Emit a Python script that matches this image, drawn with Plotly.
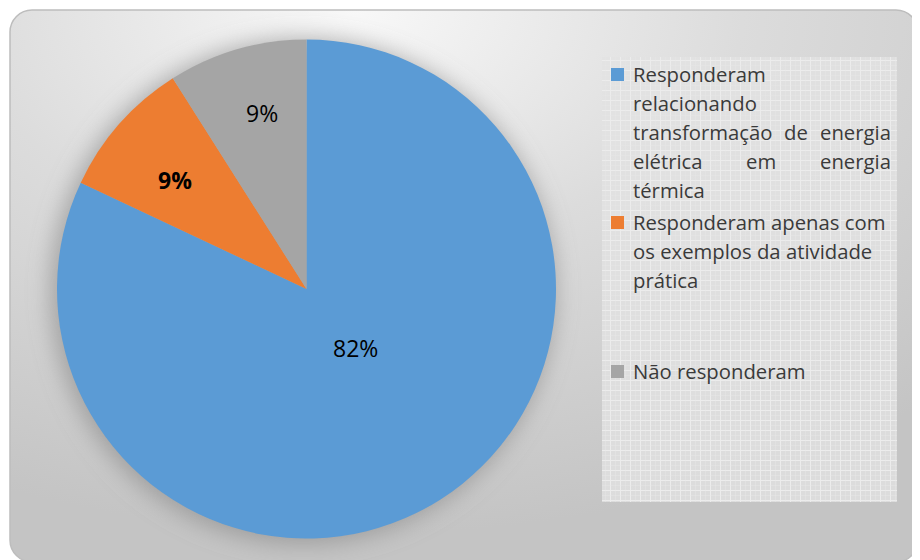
import base64
import math
import plotly.graph_objects as go

# ---------------- data ----------------
categories = [
    "Responderam relacionando transformação de energia elétrica em energia térmica",
    "Responderam apenas com os exemplos da atividade prática",
    "Não responderam",
]
percent_values = [82, 9, 9]
slice_colors = ["#5B9BD5", "#ED7D31", "#A5A5A5"]
label_bold = [False, True, False]

# wrapped legend lines (text layout of the legend entries)
legend_lines = [
    ["Responderam", "relacionando", "transformação de energia", "elétrica em energia", "térmica"],
    ["Responderam apenas com", "os exemplos da atividade", "prática"],
    ["Não responderam"],
]
justified = [[False, False, True, True, False], [False, False, False], [False]]

W, H = 920, 560
OFF = 8  # page body margin in the screenshot


def px(x):
    return (x - OFF) / W


def py(y):
    return 1 - (y - OFF) / H


# ---------------- background (decoration only) ----------------
svg = f"""<svg xmlns='http://www.w3.org/2000/svg' width='{W}' height='{H}' viewBox='{OFF} {OFF} {W} {H}'>
<defs>
<radialGradient id='bg' cx='0.38' cy='0.0' r='0.95' gradientUnits='objectBoundingBox'>
<stop offset='0' stop-color='#F8F8F8'/>
<stop offset='0.45' stop-color='#DCDCDC'/>
<stop offset='1' stop-color='#C4C4C4'/>
</radialGradient>
<filter id='blur' x='-30%' y='-30%' width='160%' height='160%'><feGaussianBlur stdDeviation='11'/></filter>
<pattern id='grid' width='10' height='10' patternUnits='userSpaceOnUse'>
<rect width='10' height='10' fill='#E2E2E2' fill-opacity='0.8'/>
<rect x='0' y='0' width='1' height='10' fill='#ECECEC'/>
<rect x='0' y='0' width='10' height='1' fill='#ECECEC'/>
<rect x='5' y='0' width='1' height='10' fill='#E8E8E8' fill-opacity='0.5'/>
<rect x='0' y='5' width='10' height='1' fill='#E8E8E8' fill-opacity='0.5'/>
</pattern>
</defs>
<rect x='10' y='10' width='908' height='552' rx='22' ry='22' fill='url(#bg)' stroke='#BDBDBD' stroke-width='1.5'/>
<circle cx='303' cy='291' r='253' fill='#858585' fill-opacity='0.6' filter='url(#blur)'/>
<rect x='602' y='57' width='295' height='445' fill='url(#grid)'/>
</svg>"""
src = "data:image/svg+xml;base64," + base64.b64encode(svg.encode("utf-8")).decode("ascii")

# ---------------- pie ----------------
cx, cy, R = 306.5, 289, 249.5
fig = go.Figure(
    go.Pie(
        labels=categories,
        values=percent_values,
        sort=False,
        direction="clockwise",
        rotation=0,
        marker=dict(colors=slice_colors, line=dict(width=0)),
        textinfo="none",
        hoverinfo="label+percent",
        showlegend=False,
        domain=dict(x=[px(cx - R), px(cx + R)], y=[py(cy + R), py(cy - R)]),
    )
)

# data labels placed at each slice's mid-angle (plus small nudges, in px)
label_radius_frac = [0.31, 0.68, 0.72]
label_nudge = [(8, -6), (-4, 3), (6, -3)]
total = sum(percent_values)
cum = 0
annotations = []
for v, bold, f, (nx, ny) in zip(percent_values, label_bold, label_radius_frac, label_nudge):
    mid = (cum + v / 2) / total * 2 * math.pi
    cum += v
    lx = cx + f * R * math.sin(mid) + nx
    ly = cy - f * R * math.cos(mid) + ny
    txt = f"{round(v / total * 100)}%"
    if bold:
        txt = f"<b>{txt}</b>"
    annotations.append(
        dict(x=px(lx), y=py(ly), xref="paper", yref="paper", text=txt, showarrow=False,
             xanchor="center", yanchor="middle",
             font=dict(family="Open Sans, DejaVu Sans, sans-serif", size=23, color="#000000"))
    )

# ---------------- custom legend ----------------
shapes = []
LX_MARK, LX_TEXT, LX_RIGHT = 611, 631, 893
line_centers = [[74, 103, 132, 161, 190], [222, 251, 280], [371]]
legend_font = dict(family="Open Sans, DejaVu Sans, sans-serif", size=20.3, color="#3A3A3A")
middle_word_centers = {("transformação de energia", 1): 796, ("elétrica em energia", 1): 761}

for i, (lines, just, centers) in enumerate(zip(legend_lines, justified, line_centers)):
    c0 = centers[0]
    shapes.append(dict(type="rect", xref="paper", yref="paper",
                       x0=px(LX_MARK), x1=px(LX_MARK + 13), y0=py(c0 - 6), y1=py(c0 + 7),
                       fillcolor=slice_colors[i], line=dict(width=0)))
    for line, j, yc in zip(lines, just, centers):
        if not j:
            annotations.append(dict(x=px(LX_TEXT), y=py(yc), xref="paper", yref="paper", text=line,
                                    showarrow=False, xanchor="left", yanchor="middle", font=legend_font))
        else:
            words = line.split(" ")
            for k, wd in enumerate(words):
                if k == 0:
                    xx, anc = LX_TEXT, "left"
                elif k == len(words) - 1:
                    xx, anc = LX_RIGHT, "right"
                else:
                    xx, anc = middle_word_centers[(line, k)], "center"
                annotations.append(dict(x=px(xx), y=py(yc), xref="paper", yref="paper", text=wd,
                                        showarrow=False, xanchor=anc, yanchor="middle", font=legend_font))

fig.update_layout(
    width=W, height=H,
    margin=dict(l=0, r=0, t=0, b=0),
    paper_bgcolor="#FFFFFF",
    plot_bgcolor="rgba(0,0,0,0)",
    images=[dict(source=src, xref="paper", yref="paper", x=0, y=1, sizex=1, sizey=1,
                 xanchor="left", yanchor="top", sizing="stretch", layer="below")],
    shapes=shapes,
    annotations=annotations,
)

fig.write_html("out.html")
